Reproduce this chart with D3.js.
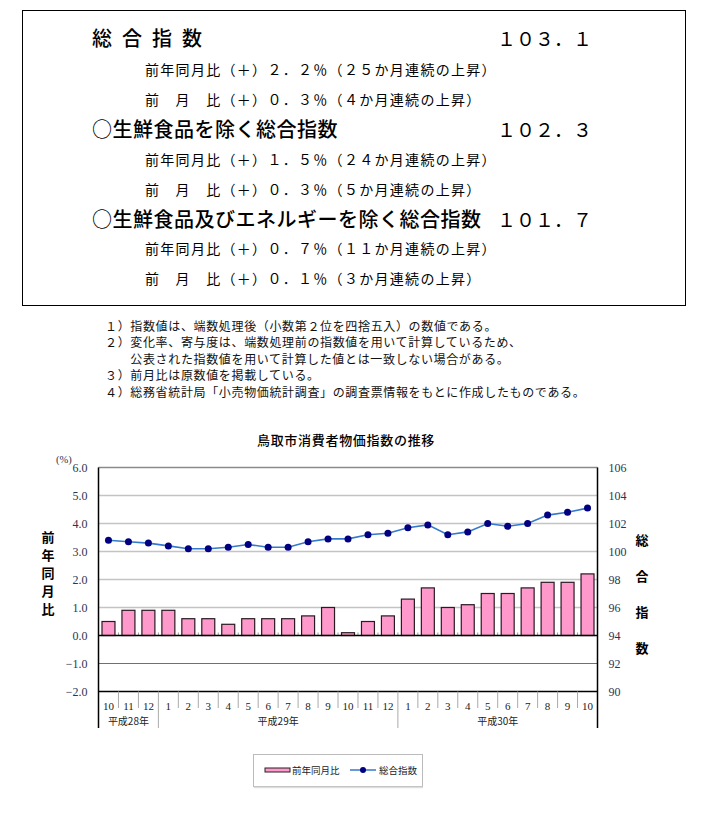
<!DOCTYPE html>
<html lang="ja">
<head>
<meta charset="utf-8">
<script src="https://cdn.jsdelivr.net/npm/d3@7"></script>
<style>
  body { margin: 0; background: #fff; }
  svg { display: block; }
  .jp { font-family: "Noto Sans CJK JP", "Noto Sans", sans-serif; }
</style>
</head>
<body>
<svg id="page"></svg>
<script>
// ---- Data ----
const months = ["10", "11", "12", "1", "2", "3", "4", "5", "6", "7", "8", "9", "10", "11", "12",
  "1", "2", "3", "4", "5", "6", "7", "8", "9", "10"];
const years = ["平成28年", "平成29年", "平成30年"];
const yearSpans = [3, 12, 10];
// 前年同月比 (%)
const yoyValues = [0.5, 0.9, 0.9, 0.9, 0.6, 0.6, 0.4, 0.6, 0.6, 0.6, 0.7, 1.0, 0.1, 0.5, 0.7,
  1.3, 1.7, 1.0, 1.1, 1.5, 1.5, 1.7, 1.9, 1.9, 2.2];
// 総合指数
const indexValues = [100.8, 100.7, 100.6, 100.4, 100.2, 100.2, 100.3, 100.5, 100.3, 100.3, 100.7,
  100.9, 100.9, 101.2, 101.3, 101.7, 101.9, 101.2, 101.4, 102.0, 101.8, 102.0, 102.6, 102.8, 103.1];
const leftTicks = [-2, -1, 0, 1, 2, 3, 4, 5, 6];
const rightTicks = [90, 92, 94, 96, 98, 100, 102, 104, 106];

// summary box text
const headlines = [
  { label: "○生鮮食品を除く総合指数", value: "１０２．３" },
  { label: "○生鮮食品及びエネルギーを除く総合指数", value: "１０１．７" }
];
const summaryRows = [
  ["前年同月比（＋）２．２％（２５か月連続の上昇）", "前　月　比（＋）０．３％（４か月連続の上昇）"],
  ["前年同月比（＋）１．５％（２４か月連続の上昇）", "前　月　比（＋）０．３％（５か月連続の上昇）"],
  ["前年同月比（＋）０．７％（１１か月連続の上昇）", "前　月　比（＋）０．１％（３か月連続の上昇）"]
];
const notes = [
  "１）指数値は、端数処理後（小数第２位を四捨五入）の数値である。",
  "２）変化率、寄与度は、端数処理前の指数値を用いて計算しているため、",
  "　　公表された指数値を用いて計算した値とは一致しない場合がある。",
  "３）前月比は原数値を掲載している。",
  "４）総務省統計局「小売物価統計調査」の調査票情報をもとに作成したものである。"
];

const SERIF = '"Liberation Serif", "DejaVu Serif", serif';
const W = 702, H = 818;
const svg = d3.select("#page").attr("width", W).attr("height", H);
svg.append("rect").attr("width", W).attr("height", H).attr("fill", "#fff");

// ---- Summary box ----
svg.append("rect")
  .attr("x", 22.5).attr("y", 10.5).attr("width", 663).attr("height", 295)
  .attr("fill", "none").attr("stroke", "#000").attr("stroke-width", 1);

const box = svg.append("g").attr("class", "jp").attr("fill", "#000");

box.append("text")
  .attr("x", 92).attr("y", 46)
  .style("font-size", "20px").style("font-weight", "500").style("letter-spacing", "10px")
  .text("総合指数");
box.append("text")
  .attr("x", 497).attr("y", 46)
  .style("font-size", "19px")
  .text("１０３．１");

headlines.forEach((h, i) => {
  const y = 137 + i * 90;
  box.append("text").attr("x", 92).attr("y", y)
    .style("font-size", "20px").style("font-weight", "500").style("letter-spacing", "0.5px").text(h.label);
  box.append("text").attr("x", 497).attr("y", y)
    .style("font-size", "19px").text(h.value);
});

summaryRows.forEach((rows, i) => {
  rows.forEach((t, j) => {
    box.append("text")
      .attr("x", 145).attr("y", 75 + i * 89.5 + j * 30)
      .style("font-size", "14px").style("letter-spacing", "1.3px")
      .text(t);
  });
});

// ---- Notes ----
svg.append("g").attr("class", "jp")
  .selectAll("text").data(notes).join("text")
  .attr("x", 105)
  .attr("y", (d, i) => 330.5 + i * 16.5)
  .style("font-size", "12px").style("letter-spacing", "0.65px")
  .attr("fill", "#111")
  .text(d => d);

// ---- Chart ----
const plot = { left: 98.5, right: 597.5, top: 467.5, bottom: 691.5 };

const x = d3.scaleBand()
  .domain(d3.range(months.length))
  .range([plot.left, plot.right])
  .paddingInner(0.35).paddingOuter(0.175);

const y = d3.scaleLinear().domain([-2, 6]).range([plot.bottom, plot.top]);
const yR = d3.scaleLinear().domain([90, 106]).range([plot.bottom, plot.top]);

svg.append("text").attr("class", "jp")
  .attr("x", 346).attr("y", 445)
  .attr("text-anchor", "middle")
  .style("font-size", "13px").style("font-weight", "500").style("letter-spacing", "0.7px")
  .text("鳥取市消費者物価指数の推移");

// grid lines
const grid = svg.append("g");
grid.selectAll("line").data(leftTicks.filter(v => v !== 0 && v !== -2)).join("line")
  .attr("x1", plot.left).attr("x2", plot.right)
  .attr("y1", d => y(d)).attr("y2", d => y(d))
  .attr("stroke", d => d === 6 ? "#8a8a8a" : d < 0 ? "#707070" : "#c4c4c4")
  .attr("stroke-width", d => d < 0 ? 1 : 1.6);

// bars
svg.append("g").selectAll("rect").data(yoyValues).join("rect")
  .attr("x", (d, i) => x(i))
  .attr("width", x.bandwidth())
  .attr("y", d => y(d))
  .attr("height", d => y(0) - y(d))
  .attr("fill", "#ff99cc")
  .attr("stroke", "#2a1a22").attr("stroke-width", 1.2);

// small category ticks above zero line
svg.append("g").selectAll("line").data(d3.range(1, months.length)).join("line")
  .attr("x1", i => plot.left + i * x.step()).attr("x2", i => plot.left + i * x.step())
  .attr("y1", y(0) - 3).attr("y2", y(0))
  .attr("stroke", "#999").attr("stroke-width", 1);

// zero line, bottom axis, side axes
svg.append("line").attr("x1", plot.left).attr("x2", plot.right)
  .attr("y1", y(0)).attr("y2", y(0)).attr("stroke", "#000").attr("stroke-width", 1.5);
svg.append("line").attr("x1", plot.left).attr("x2", plot.right)
  .attr("y1", plot.bottom).attr("y2", plot.bottom).attr("stroke", "#000").attr("stroke-width", 1.5);
svg.append("line").attr("x1", plot.left).attr("x2", plot.left)
  .attr("y1", plot.top).attr("y2", 728).attr("stroke", "#000").attr("stroke-width", 1.5);
svg.append("line").attr("x1", plot.right).attr("x2", plot.right)
  .attr("y1", plot.top).attr("y2", 728).attr("stroke", "#000").attr("stroke-width", 1.5);

// index line
const line = d3.line()
  .x((d, i) => x(i) + x.bandwidth() / 2)
  .y(d => yR(d));
svg.append("path").datum(indexValues)
  .attr("d", line)
  .attr("fill", "none").attr("stroke", "#3578cc").attr("stroke-width", 1.6);
svg.append("g").selectAll("circle").data(indexValues).join("circle")
  .attr("cx", (d, i) => x(i) + x.bandwidth() / 2)
  .attr("cy", d => yR(d))
  .attr("r", 3.5)
  .attr("fill", "#000080");

// left axis
const axL = svg.append("g")
  .attr("transform", `translate(${plot.left - 8},0)`)
  .call(d3.axisLeft(y).tickValues(leftTicks).tickFormat(d3.format(".1f")).tickSize(0));
axL.select(".domain").remove();
axL.selectAll("text").style("font-family", SERIF).style("font-size", "12px").attr("fill", "#2b3552");

// right axis
const axR = svg.append("g")
  .attr("transform", `translate(${plot.right + 8},0)`)
  .call(d3.axisRight(yR).tickValues(rightTicks).tickSize(0));
axR.select(".domain").remove();
axR.selectAll("text").style("font-family", SERIF).style("font-size", "12px").attr("fill", "#2b3552");

svg.append("text")
  .attr("x", 56).attr("y", 463)
  .style("font-family", SERIF).style("font-size", "10.5px").attr("fill", "#2b3552")
  .text("(%)");

// axis titles
svg.append("g").attr("class", "jp")
  .selectAll("text").data(Array.from("前年同月比")).join("text")
  .attr("x", 48).attr("y", (d, i) => 542 + i * 18)
  .attr("text-anchor", "middle")
  .style("font-size", "13px").style("font-weight", "bold")
  .text(d => d);
svg.append("g").attr("class", "jp")
  .selectAll("text").data(Array.from("総合指数")).join("text")
  .attr("x", 642).attr("y", (d, i) => 545 + i * 36)
  .attr("text-anchor", "middle")
  .style("font-size", "13px").style("font-weight", "bold")
  .text(d => d);

// month labels
const axB = svg.append("g")
  .attr("transform", `translate(0,${plot.bottom + 8})`)
  .call(d3.axisBottom(x).tickFormat(i => months[i]).tickSize(0));
axB.select(".domain").remove();
axB.selectAll("text").style("font-family", SERIF).style("font-size", "11px").attr("fill", "#222");

// category separators and year separators
const yearStarts = yearSpans.reduce((acc, n, i) => { acc.push((acc[i - 1] || 0) + n); return acc; }, []);
svg.append("g").selectAll("line").data(d3.range(1, months.length)).join("line")
  .attr("x1", i => plot.left + i * x.step()).attr("x2", i => plot.left + i * x.step())
  .attr("y1", plot.bottom)
  .attr("y2", i => yearStarts.includes(i) ? 728 : 708)
  .attr("stroke", "#aaa").attr("stroke-width", 1);

let acc = 0;
const yearPos = yearSpans.map(n => { const c = acc + n / 2; acc += n; return c; });
svg.append("g").attr("class", "jp")
  .selectAll("text").data(years).join("text")
  .attr("x", (d, i) => plot.left + yearPos[i] * x.step())
  .attr("y", 725)
  .attr("text-anchor", "middle")
  .style("font-size", "10px").attr("fill", "#222")
  .text(d => d);

// legend
const lg = svg.append("g").attr("class", "jp");
lg.append("rect").attr("x", 253.5).attr("y", 754.5).attr("width", 169).attr("height", 32)
  .attr("fill", "#fff").attr("stroke", "#bbb");
lg.append("line").attr("x1", 254).attr("x2", 423).attr("y1", 787.5).attr("y2", 787.5)
  .attr("stroke", "#ddd").attr("stroke-width", 1.5);
lg.append("rect").attr("x", 265).attr("y", 768).attr("width", 25).attr("height", 4)
  .attr("fill", "#ff99cc").attr("stroke", "#222").attr("stroke-width", 1);
lg.append("text").attr("x", 292).attr("y", 774)
  .style("font-size", "9.5px").attr("fill", "#222").text("前年同月比");
lg.append("line").attr("x1", 350).attr("x2", 376).attr("y1", 770).attr("y2", 770)
  .attr("stroke", "#3578cc").attr("stroke-width", 1.5);
lg.append("circle").attr("cx", 363).attr("cy", 770).attr("r", 3).attr("fill", "#000080");
lg.append("text").attr("x", 379).attr("y", 774)
  .style("font-size", "9.5px").attr("fill", "#222").text("総合指数");
</script>
</body>
</html>
